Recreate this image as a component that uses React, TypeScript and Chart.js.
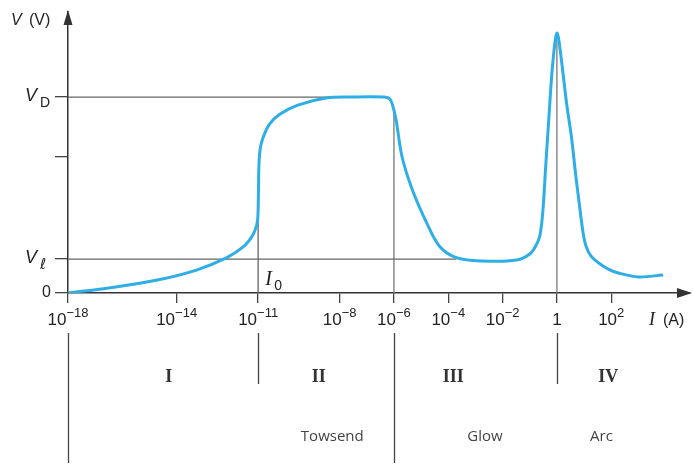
import React, { useEffect, useRef } from "react";
import { Chart, registerables } from "chart.js";

Chart.register(...registerables);

// x = log10(I / A), y = V (arbitrary units, V_D = 100)
const CURVE_LOG_I = [
  -18, -16.5, -14.71, -13.27, -12.17, -11.55, -11.26, -11.11, -11.02, -10.99,
  -10.97, -10.92, -10.81, -10.58, -10.19, -9.54, -8.5, -7.64, -6.36, -6.15,
  -6.04, -5.92, -5.7, -5.32, -4.79, -4.3, -3.67, -2.73, -1.48, -1.0,
  -0.78, -0.63, -0.52, -0.41, -0.3, -0.19, -0.07, 0, 0.07, 0.21,
  0.36, 0.54, 0.68, 0.82, 0.96, 1.07, 1.25, 1.54, 1.89, 2.26,
  2.99, 3.91,
];
const CURVE_V = [
  0, 2.6, 6.6, 11.7, 17.9, 23.5, 28.1, 32.1, 37.2, 50.0,
  65.3, 74.0, 79.6, 86.2, 91.3, 95.9, 99.5, 100, 100, 99,
  95.4, 88.3, 69.4, 52.6, 35.7, 23.5, 17.9, 16.3, 16.8, 19.9,
  24.0, 29.1, 41.3, 65.3, 88.3, 111.2, 128.1, 132.7, 129.1, 113.8,
  96.4, 79.1, 61.7, 45.9, 31.1, 24.0, 18.9, 15.3, 12.2, 10.2,
  8.2, 9.2,
];

const V_D = 100;
const V_L = 17.3;
const V_MID = 69.4;
const V_PEAK = 132.7;
const V_I0 = 36;
const V_GLOW_START = 93;
const V_MAX = 143.4;
const LOG_I_MIN = -18;
const LOG_I_MAX = 4.9;
const VD_LINE_END = -6.3;
const VL_LINE_END = -3.7;

const X_TICKS = [-18, -14, -11, -8, -6, -4, -2, 0, 2];
const X_TICK_BASE = ["10", "10", "10", "10", "10", "10", "10", "1", "10"];
const X_TICK_EXP = ["\u221218", "\u221214", "\u221211", "\u22128", "\u22126", "\u22124", "\u22122", "", "2"];
const Y_TICKS = [0, V_L, V_MID, V_D];

const REGION_BOUNDS = [-18, -11, -6, 0];
const REGION_BOUND_LONG = [true, false, true, false];
const REGION_LABELS = ["I", "II", "III", "IV"];
const REGION_LABEL_X = [-14.29, -8.77, -3.82, 1.89];
const REGION_NAMES = ["Towsend", "Glow", "Arc"];
const REGION_NAME_X = [-8.27, -2.65, 1.64];

const CURVE_COLOR = "#2eaee6";
const REF_COLOR = "#666666";
const AXIS_COLOR = "#333333";
const TEXT_COLOR = "#222222";

const refLine = (pts: { x: number; y: number }[], color = REF_COLOR) => ({
  type: "line" as const,
  data: pts,
  borderColor: color,
  borderWidth: 1.3,
  pointRadius: 0,
  tension: 0,
  fill: false,
});

const annotations = {
  id: "annotations",
  afterDraw(chart: any) {
    const ctx = chart.ctx as CanvasRenderingContext2D;
    const xs = chart.scales.x;
    const ys = chart.scales.y;
    const { left, right, top, bottom } = chart.chartArea;
    ctx.save();

    // Arrow heads
    ctx.fillStyle = AXIS_COLOR;
    ctx.beginPath();
    ctx.moveTo(right + 2, bottom);
    ctx.lineTo(right - 13, bottom - 5);
    ctx.lineTo(right - 13, bottom + 5);
    ctx.closePath();
    ctx.fill();
    ctx.beginPath();
    ctx.moveTo(left, top - 2);
    ctx.lineTo(left - 4.5, top + 13);
    ctx.lineTo(left + 4.5, top + 13);
    ctx.closePath();
    ctx.fill();

    ctx.fillStyle = TEXT_COLOR;
    ctx.textBaseline = "alphabetic";

    // Y axis title "V (V)"
    ctx.textAlign = "left";
    ctx.font = 'italic 16px "Liberation Sans"';
    ctx.fillText("V", 11, 25);
    ctx.font = '16px "Liberation Sans"';
    ctx.fillText("(V)", 29, 25);

    // V_D
    const yD = ys.getPixelForValue(V_D);
    ctx.font = 'italic 18px "Liberation Sans"';
    ctx.fillText("V", 25, yD + 4);
    ctx.font = '14px "Liberation Sans"';
    ctx.fillText("D", 40, yD + 10);

    // V_l
    const yL = ys.getPixelForValue(V_L);
    ctx.font = 'italic 18px "Liberation Sans"';
    ctx.fillText("V", 25, yL + 4);
    ctx.font = 'italic 15px "DejaVu Sans"';
    ctx.fillText("\u2113", 40, yL + 10);

    // 0
    ctx.font = '16px "Liberation Sans"';
    ctx.textAlign = "right";
    ctx.textBaseline = "middle";
    ctx.fillText("0", 51, ys.getPixelForValue(0));
    ctx.textBaseline = "alphabetic";

    // I0
    const x11 = xs.getPixelForValue(-11);
    ctx.textAlign = "left";
    ctx.font = 'italic 20px "Liberation Serif"';
    ctx.fillText("I", x11 + 7, bottom - 8);
    ctx.font = '14px "Liberation Sans"';
    ctx.fillText("0", x11 + 16, bottom - 3);

    // X tick labels
    const baseY = bottom + 32;
    X_TICKS.forEach((v, i) => {
      const px = xs.getPixelForValue(v);
      ctx.font = '17px "Liberation Sans"';
      const wb = ctx.measureText(X_TICK_BASE[i]).width;
      ctx.font = '13px "Liberation Sans"';
      const we = X_TICK_EXP[i] ? ctx.measureText(X_TICK_EXP[i]).width : 0;
      const start = px - (wb + we) / 2;
      ctx.textAlign = "left";
      ctx.font = '17px "Liberation Sans"';
      ctx.fillText(X_TICK_BASE[i], start, baseY);
      if (X_TICK_EXP[i]) {
        ctx.font = '13px "Liberation Sans"';
        ctx.fillText(X_TICK_EXP[i], start + wb, baseY - 8);
      }
    });

    // X axis title "I (A)"
    ctx.textAlign = "left";
    ctx.font = 'italic 18px "Liberation Serif"';
    ctx.fillText("I", 649, baseY);
    ctx.font = '16px "Liberation Sans"';
    ctx.fillText("(A)", 663, baseY);

    // Region separators
    ctx.strokeStyle = "#444444";
    ctx.lineWidth = 1.3;
    REGION_BOUNDS.forEach((v, i) => {
      const px = Math.round(xs.getPixelForValue(v)) + 0.5;
      ctx.beginPath();
      ctx.moveTo(px, bottom + 40);
      ctx.lineTo(px, REGION_BOUND_LONG[i] ? bottom + 170 : bottom + 91);
      ctx.stroke();
    });

    // Region labels
    ctx.textAlign = "center";
    ctx.textBaseline = "middle";
    ctx.fillStyle = "#333333";
    ctx.font = 'bold 18px "Liberation Serif"';
    REGION_LABELS.forEach((t, i) => {
      ctx.fillText(t, xs.getPixelForValue(REGION_LABEL_X[i]), bottom + 84);
    });
    ctx.font = '15px "Open Sans"';
    ctx.fillStyle = "#444444";
    REGION_NAMES.forEach((t, i) => {
      ctx.fillText(t, xs.getPixelForValue(REGION_NAME_X[i]), bottom + 144);
    });

    ctx.restore();
  },
};

export default function App() {
  const canvasRef = useRef<HTMLCanvasElement | null>(null);

  useEffect(() => {
    if (!canvasRef.current) return;
    const curve = CURVE_LOG_I.map((x, i) => ({ x, y: CURVE_V[i] }));
    const chart = new Chart(canvasRef.current, {
      type: "line",
      data: {
        datasets: [
          {
            data: curve,
            borderColor: CURVE_COLOR,
            borderWidth: 3,
            pointRadius: 0,
            tension: 0.35,
            fill: false,
          } as any,
          refLine([{ x: LOG_I_MIN, y: V_D }, { x: VD_LINE_END, y: V_D }]),
          refLine([{ x: LOG_I_MIN, y: V_L }, { x: VL_LINE_END, y: V_L }]),
          refLine([{ x: -11, y: 0 }, { x: -11, y: V_I0 }]),
          refLine([{ x: -6, y: 0 }, { x: -6, y: V_GLOW_START }], "#777777"),
          refLine([{ x: 0, y: 0 }, { x: 0, y: V_PEAK }], "#777777"),
        ],
      },
      options: {
        responsive: false,
        devicePixelRatio: 1,
        animation: false,
        events: [],
        parsing: false as any,
        layout: { padding: { left: 55, top: 12, right: 3, bottom: 161 } },
        plugins: { legend: { display: false }, tooltip: { enabled: false } },
        scales: {
          x: {
            type: "linear",
            min: LOG_I_MIN,
            max: LOG_I_MAX,
            afterBuildTicks: (s: any) => {
              s.ticks = X_TICKS.map((value) => ({ value }));
            },
            ticks: { display: false },
            grid: {
              drawOnChartArea: false,
              drawTicks: true,
              tickLength: 10,
              color: "#444444",
              lineWidth: 1.3,
            },
            border: { display: true, color: AXIS_COLOR, width: 1.5 },
          },
          y: {
            type: "linear",
            min: 0,
            max: V_MAX,
            afterBuildTicks: (s: any) => {
              s.ticks = Y_TICKS.map((value) => ({ value }));
            },
            ticks: { display: false },
            grid: {
              drawOnChartArea: false,
              drawTicks: true,
              tickLength: 13,
              color: "#444444",
              lineWidth: 1.3,
            },
            border: { display: true, color: AXIS_COLOR, width: 1.5 },
          },
        },
      },
      plugins: [annotations],
    });
    return () => chart.destroy();
  }, []);

  return (
    <div style={{ position: "fixed", left: 0, top: 0, width: 693, height: 464, background: "#ffffff" }}>
      <canvas ref={canvasRef} width={693} height={464} />
    </div>
  );
}
